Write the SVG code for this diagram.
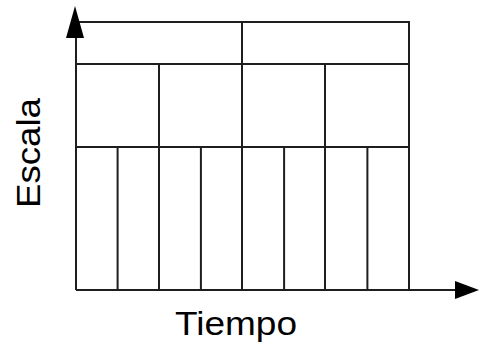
<svg xmlns="http://www.w3.org/2000/svg" width="480" height="349" viewBox="0 0 480 349">
<style>
.ln{stroke:#1e1e1e;stroke-width:2;fill:none}
.lbl{font-family:"Liberation Sans",Arial,sans-serif;font-size:33px;fill:#000}
</style>
<rect width="480" height="349" fill="#fff"/>
<g id="grid">
<path class="ln" d="M76,22 H409 V290 M76,64 H409 M76,147 H409"/>
<path class="ln" d="M242,22 V290 M159,64 V290 M325,64 V290"/>
<path class="ln" d="M117.6,147 V290 M200.9,147 V290 M284.1,147 V290 M367.4,147 V290"/>
</g>
<g id="axes">
<path class="ln" d="M76,290 V34 M76,290 H458" stroke-width="2.4"/>
<polygon points="75,6 66,38 84,38" fill="#000"/>
<polygon points="479,290 455,281 455,299" fill="#000"/>
</g>
<g id="label-tiempo"><text class="lbl" x="236" y="335" text-anchor="middle" textLength="122" lengthAdjust="spacingAndGlyphs">Tiempo</text></g>
<g id="label-escala"><text class="lbl" transform="translate(40,153) rotate(-90)" text-anchor="middle" textLength="110" lengthAdjust="spacingAndGlyphs">Escala</text></g>
</svg>
